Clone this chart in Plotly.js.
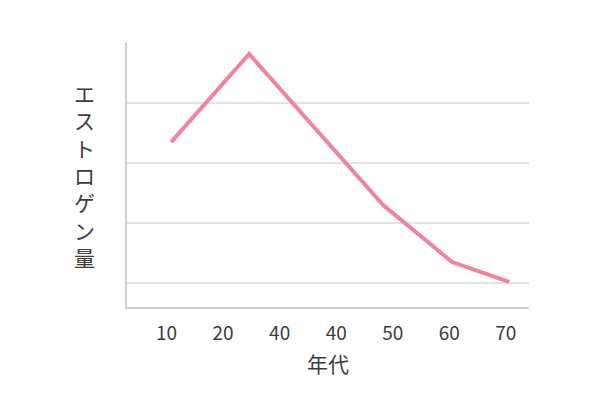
<!DOCTYPE html>
<html>
<head>
<meta charset="utf-8">
<script src="https://cdn.plot.ly/plotly-3.0.1.min.js"></script>
<style>html,body{margin:0;padding:0;background:#fff;}#chart{width:600px;height:400px;}</style>
</head>
<body>
<div id="chart"></div>
<script>
// tick positions and labels (as printed in the reference)
const tickPositions = [10, 20, 30, 40, 50, 60, 70];
const tickLabels = ["10", "20", "40", "40", "50", "60", "70"];
// series
const ages = [10.8, 24.6, 48.3, 60.5, 70.6];
const estrogen = [2.35, 3.82, 1.3, 0.35, 0.02];
const yTitle = "エストロゲン量";
const xTitle = "年代";

const jp = '"Noto Sans CJK JP", "Noto Sans", sans-serif';

const trace = {
  x: ages, y: estrogen, type: 'scatter', mode: 'lines',
  line: {color: '#f0849f', width: 4},
  hoverinfo: 'skip'
};

const layout = {
  width: 600, height: 400,
  margin: {l: 127, r: 71, t: 42, b: 93},
  paper_bgcolor: '#fff', plot_bgcolor: '#fff',
  showlegend: false,
  font: {family: jp, color: '#444'},
  xaxis: {
    range: [3, 74.1],
    tickvals: tickPositions, ticktext: tickLabels,
    tickfont: {size: 19, color: '#3d3d3d', family: jp},
    showgrid: false, zeroline: false,
    showline: true, linecolor: '#cfcfcf', linewidth: 2,
    ticks: '', ticklen: 0,
    ticklabelstandoff: 8,
    title: {text: xTitle, font: {size: 21, color: '#3d3d3d', family: jp}, standoff: 14}
  },
  yaxis: {
    range: [-0.4, 4.02],
    tickvals: [0, 1, 2, 3],
    showticklabels: false,
    showgrid: true, gridcolor: '#e3e3e3', gridwidth: 1.5,
    zeroline: false,
    showline: true, linecolor: '#cfcfcf', linewidth: 2,
    ticks: ''
  },
  annotations: [{
    text: yTitle.split('').join('<br>'),
    xref: 'paper', yref: 'paper',
    x: -0.105, y: 0.5, xanchor: 'center', yanchor: 'middle',
    showarrow: false,
    font: {size: 21, color: '#3d3d3d', family: jp}
  }]
};

Plotly.newPlot('chart', [trace], layout, {displayModeBar: false, staticPlot: true});
</script>
</body>
</html>
